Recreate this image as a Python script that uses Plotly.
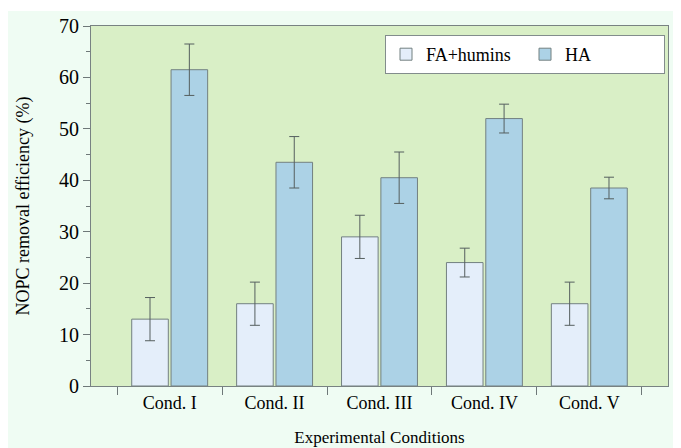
import plotly.graph_objects as go

categories = ["Cond. I", "Cond. II", "Cond. III", "Cond. IV", "Cond. V"]
fa_humins = [13.0, 16.0, 29.0, 24.0, 16.0]
fa_err = [4.2, 4.2, 4.2, 2.8, 4.2]
ha = [61.5, 43.5, 40.5, 52.0, 38.5]
ha_err = [5.0, 5.0, 5.0, 2.8, 2.1]

edge = "rgb(115,128,128)"
errc = "rgb(85,95,95)"
font = "Times New Roman, Liberation Serif, serif"

fig = go.Figure()
fig.add_trace(go.Bar(
    name="FA+humins", x=categories, y=fa_humins,
    marker=dict(color="rgb(228,238,250)", line=dict(color=edge, width=1)),
    error_y=dict(type="data", array=fa_err, color=errc, thickness=1, width=5),
))
fig.add_trace(go.Bar(
    name="HA", x=categories, y=ha,
    marker=dict(color="rgb(172,210,230)", line=dict(color=edge, width=1)),
    error_y=dict(type="data", array=ha_err, color=errc, thickness=1, width=5),
))

W, H = 673, 440
L, R, T, B = 83, 13, 18, 62
pw, ph = W - L - R, H - T - B

def px2x(p):
    return (p - L) / pw

def py2y(p):
    return (H - B - p) / ph

fig.update_layout(
    width=W, height=H,
    margin=dict(l=L, r=R, t=T, b=B, pad=0, autoexpand=False),
    paper_bgcolor="rgb(239,252,243)",
    plot_bgcolor="rgb(217,239,198)",
    barmode="group", bargap=0.25, bargroupgap=0.07,
    font=dict(family=font, size=17, color="black"),
    showlegend=True,
    legend=dict(
        orientation="h", x=px2x(657), xanchor="right", y=py2y(27), yanchor="top",
        bgcolor="white", bordercolor="rgb(130,140,140)", borderwidth=1,
        font=dict(family=font, size=18, color="black"), entrywidth=94,
    ),
    shapes=[
        dict(type="rect", xref="paper", yref="paper", x0=px2x(-5), x1=px2x(W + 5),
             y0=py2y(3), y1=py2y(-5), fillcolor="white", line=dict(width=0), layer="above"),
    ],
)
fig.update_xaxes(
    range=[-0.75, 4.75], tickson="boundaries", ticks="outside", ticklen=8,
    tickcolor="rgb(110,120,120)", showline=True, linecolor="rgb(120,130,130)",
    linewidth=1, mirror=True, showgrid=False,
    tickfont=dict(family=font, size=18, color="black"),
    title=dict(text="Experimental Conditions", font=dict(family=font, size=17, color="black"), standoff=19),
)
fig.update_yaxes(
    range=[0, 70], dtick=10, ticks="outside", ticklen=7,
    tickcolor="rgb(110,120,120)", showline=True, linecolor="rgb(120,130,130)",
    linewidth=1, mirror=True, showgrid=False, zeroline=False,
    minor=dict(dtick=5, ticks="outside", ticklen=4, tickcolor="rgb(110,120,120)", showgrid=False),
    tickfont=dict(family=font, size=20, color="black"),
    title=dict(text="NOPC removal efficiency (%)", font=dict(family=font, size=18, color="black"), standoff=24),
)

fig.write_html("out.html")
